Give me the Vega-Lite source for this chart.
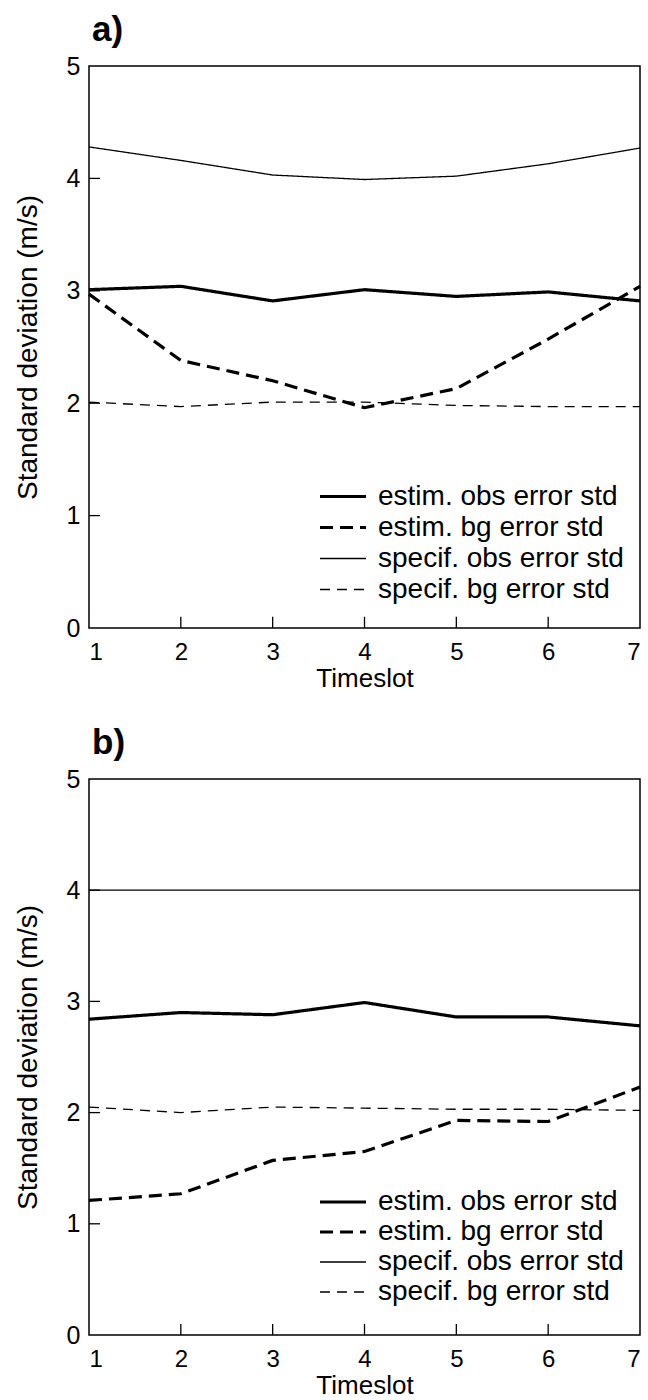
{
  "$schema": "https://vega.github.io/schema/vega-lite/v6.json",
  "padding": {"left": 13, "top": 12, "right": 6, "bottom": 0},
  "spacing": 33,
  "config": {
    "font": "Liberation Sans",
    "view": {"stroke": "black", "strokeWidth": 1.5},
    "legend": {
      "padding": 0,
      "labelFontSize": 28,
      "labelColor": "black",
      "labelFont": "Liberation Sans",
      "labelOffset": 10,
      "labelLimit": 400,
      "rowPadding": 0,
      "symbolType": "stroke",
      "symbolStrokeColor": "black",
      "symbolSize": 2116,
      "title": null
    },
    "title": {"anchor": "start", "frame": "group", "fontSize": 35, "fontWeight": "bold", "color": "black", "font": "Liberation Sans", "offset": 6, "dx": 3}
  },
  "datasets": {
    "xt": [{"t": 2, "a": 0, "b": 0.1}, {"t": 3, "a": 0, "b": 0.1}, {"t": 4, "a": 0, "b": 0.1}, {"t": 5, "a": 0, "b": 0.1}, {"t": 6, "a": 0, "b": 0.1}],
    "yt": [{"v": 1, "a": 1, "b": 1.12}, {"v": 2, "a": 1, "b": 1.12}, {"v": 3, "a": 1, "b": 1.12}, {"v": 4, "a": 1, "b": 1.12}],
    "pa": [
      {"t": 1, "v": 3.01, "s": "estim. obs error std"},
      {"t": 2, "v": 3.04, "s": "estim. obs error std"},
      {"t": 3, "v": 2.91, "s": "estim. obs error std"},
      {"t": 4, "v": 3.01, "s": "estim. obs error std"},
      {"t": 5, "v": 2.95, "s": "estim. obs error std"},
      {"t": 6, "v": 2.99, "s": "estim. obs error std"},
      {"t": 7, "v": 2.91, "s": "estim. obs error std"},
      {"t": 1, "v": 2.97, "s": "estim. bg error std"},
      {"t": 2, "v": 2.38, "s": "estim. bg error std"},
      {"t": 3, "v": 2.2, "s": "estim. bg error std"},
      {"t": 4, "v": 1.96, "s": "estim. bg error std"},
      {"t": 5, "v": 2.13, "s": "estim. bg error std"},
      {"t": 6, "v": 2.57, "s": "estim. bg error std"},
      {"t": 7, "v": 3.04, "s": "estim. bg error std"},
      {"t": 1, "v": 4.28, "s": "specif. obs error std"},
      {"t": 2, "v": 4.16, "s": "specif. obs error std"},
      {"t": 3, "v": 4.03, "s": "specif. obs error std"},
      {"t": 4, "v": 3.99, "s": "specif. obs error std"},
      {"t": 5, "v": 4.02, "s": "specif. obs error std"},
      {"t": 6, "v": 4.13, "s": "specif. obs error std"},
      {"t": 7, "v": 4.27, "s": "specif. obs error std"},
      {"t": 1, "v": 2.01, "s": "specif. bg error std"},
      {"t": 2, "v": 1.97, "s": "specif. bg error std"},
      {"t": 3, "v": 2.01, "s": "specif. bg error std"},
      {"t": 4, "v": 2.01, "s": "specif. bg error std"},
      {"t": 5, "v": 1.98, "s": "specif. bg error std"},
      {"t": 6, "v": 1.97, "s": "specif. bg error std"},
      {"t": 7, "v": 1.97, "s": "specif. bg error std"}
    ],
    "pb": [
      {"t": 1, "v": 2.84, "s": "estim. obs error std"},
      {"t": 2, "v": 2.9, "s": "estim. obs error std"},
      {"t": 3, "v": 2.88, "s": "estim. obs error std"},
      {"t": 4, "v": 2.99, "s": "estim. obs error std"},
      {"t": 5, "v": 2.86, "s": "estim. obs error std"},
      {"t": 6, "v": 2.86, "s": "estim. obs error std"},
      {"t": 7, "v": 2.78, "s": "estim. obs error std"},
      {"t": 1, "v": 1.21, "s": "estim. bg error std"},
      {"t": 2, "v": 1.27, "s": "estim. bg error std"},
      {"t": 3, "v": 1.57, "s": "estim. bg error std"},
      {"t": 4, "v": 1.65, "s": "estim. bg error std"},
      {"t": 5, "v": 1.93, "s": "estim. bg error std"},
      {"t": 6, "v": 1.92, "s": "estim. bg error std"},
      {"t": 7, "v": 2.23, "s": "estim. bg error std"},
      {"t": 1, "v": 4.0, "s": "specif. obs error std"},
      {"t": 2, "v": 4.0, "s": "specif. obs error std"},
      {"t": 3, "v": 4.0, "s": "specif. obs error std"},
      {"t": 4, "v": 4.0, "s": "specif. obs error std"},
      {"t": 5, "v": 4.0, "s": "specif. obs error std"},
      {"t": 6, "v": 4.0, "s": "specif. obs error std"},
      {"t": 7, "v": 4.0, "s": "specif. obs error std"},
      {"t": 1, "v": 2.05, "s": "specif. bg error std"},
      {"t": 2, "v": 2.0, "s": "specif. bg error std"},
      {"t": 3, "v": 2.05, "s": "specif. bg error std"},
      {"t": 4, "v": 2.04, "s": "specif. bg error std"},
      {"t": 5, "v": 2.03, "s": "specif. bg error std"},
      {"t": 6, "v": 2.03, "s": "specif. bg error std"},
      {"t": 7, "v": 2.02, "s": "specif. bg error std"}
    ]
  },
  "resolve": {"legend": {"strokeDash": "independent", "strokeWidth": "independent"}},
  "vconcat": [
    {
      "title": {"text": "a)"},
      "width": 551,
      "height": 562,
      "layer": [
        {
          "data": {"name": "pa"},
          "mark": {"type": "line", "color": "black"},
          "encoding": {
            "x": {"field": "t", "type": "quantitative", "scale": {"domain": [1, 7], "nice": false}, "axis": {"values": [1, 2, 3, 4, 5, 6, 7], "format": "d", "title": "Timeslot", "domain": false, "grid": false, "ticks": false, "labelPadding": 12, "labelFontSize": 24, "labelColor": "black", "titleFontSize": 26, "titleFontWeight": "normal", "titleColor": "black", "titlePadding": 1}},
            "y": {"field": "v", "type": "quantitative", "scale": {"domain": [0, 5], "nice": false}, "axis": {"values": [0, 1, 2, 3, 4, 5], "format": "d", "title": "Standard deviation (m/s)", "domain": false, "grid": false, "ticks": false, "labelPadding": 9, "labelFontSize": 25, "labelColor": "black", "titleFontSize": 28, "titleFontWeight": "normal", "titleColor": "black", "titlePadding": 24}},
            "strokeDash": {"field": "s", "type": "nominal", "scale": {"domain": ["estim. obs error std", "estim. bg error std", "specif. obs error std", "specif. bg error std"], "range": [[1, 0], [13, 7], [1, 0], [10, 7]]}, "legend": {"orient": "none", "legendX": 229, "legendY": 415, "clipHeight": 31}},
            "strokeWidth": {"field": "s", "type": "nominal", "scale": {"type": "ordinal", "domain": ["estim. obs error std", "estim. bg error std", "specif. obs error std", "specif. bg error std"], "range": [3.2, 3.2, 1.3, 1.3]}, "legend": {"orient": "none", "legendX": 229, "legendY": 415, "clipHeight": 31}}
          }
        },
        {
          "data": {"name": "xt"},
          "mark": {"type": "rule", "color": "black", "strokeWidth": 1.3},
          "encoding": {
            "x": {"field": "t", "type": "quantitative"},
            "y": {"field": "a", "type": "quantitative"},
            "y2": {"field": "b"}
          }
        },
        {
          "data": {"name": "yt"},
          "mark": {"type": "rule", "color": "black", "strokeWidth": 1.3},
          "encoding": {
            "y": {"field": "v", "type": "quantitative"},
            "x": {"field": "a", "type": "quantitative"},
            "x2": {"field": "b"}
          }
        }
      ]
    },
    {
      "title": {"text": "b)"},
      "width": 551,
      "height": 556,
      "layer": [
        {
          "data": {"name": "pb"},
          "mark": {"type": "line", "color": "black"},
          "encoding": {
            "x": {"field": "t", "type": "quantitative", "scale": {"domain": [1, 7], "nice": false}, "axis": {"values": [1, 2, 3, 4, 5, 6, 7], "format": "d", "title": "Timeslot", "domain": false, "grid": false, "ticks": false, "labelPadding": 12, "labelFontSize": 24, "labelColor": "black", "titleFontSize": 26, "titleFontWeight": "normal", "titleColor": "black", "titlePadding": 1}},
            "y": {"field": "v", "type": "quantitative", "scale": {"domain": [0, 5], "nice": false}, "axis": {"values": [0, 1, 2, 3, 4, 5], "format": "d", "title": "Standard deviation (m/s)", "domain": false, "grid": false, "ticks": false, "labelPadding": 9, "labelFontSize": 25, "labelColor": "black", "titleFontSize": 28, "titleFontWeight": "normal", "titleColor": "black", "titlePadding": 24}},
            "strokeDash": {"field": "s", "type": "nominal", "scale": {"domain": ["estim. obs error std", "estim. bg error std", "specif. obs error std", "specif. bg error std"], "range": [[1, 0], [13, 7], [1, 0], [10, 7]]}, "legend": {"orient": "none", "legendX": 229, "legendY": 408, "clipHeight": 30}},
            "strokeWidth": {"field": "s", "type": "nominal", "scale": {"type": "ordinal", "domain": ["estim. obs error std", "estim. bg error std", "specif. obs error std", "specif. bg error std"], "range": [3.2, 3.2, 1.3, 1.3]}, "legend": {"orient": "none", "legendX": 229, "legendY": 408, "clipHeight": 30}}
          }
        },
        {
          "data": {"name": "xt"},
          "mark": {"type": "rule", "color": "black", "strokeWidth": 1.3},
          "encoding": {
            "x": {"field": "t", "type": "quantitative"},
            "y": {"field": "a", "type": "quantitative"},
            "y2": {"field": "b"}
          }
        },
        {
          "data": {"name": "yt"},
          "mark": {"type": "rule", "color": "black", "strokeWidth": 1.3},
          "encoding": {
            "y": {"field": "v", "type": "quantitative"},
            "x": {"field": "a", "type": "quantitative"},
            "x2": {"field": "b"}
          }
        }
      ]
    }
  ]
}
